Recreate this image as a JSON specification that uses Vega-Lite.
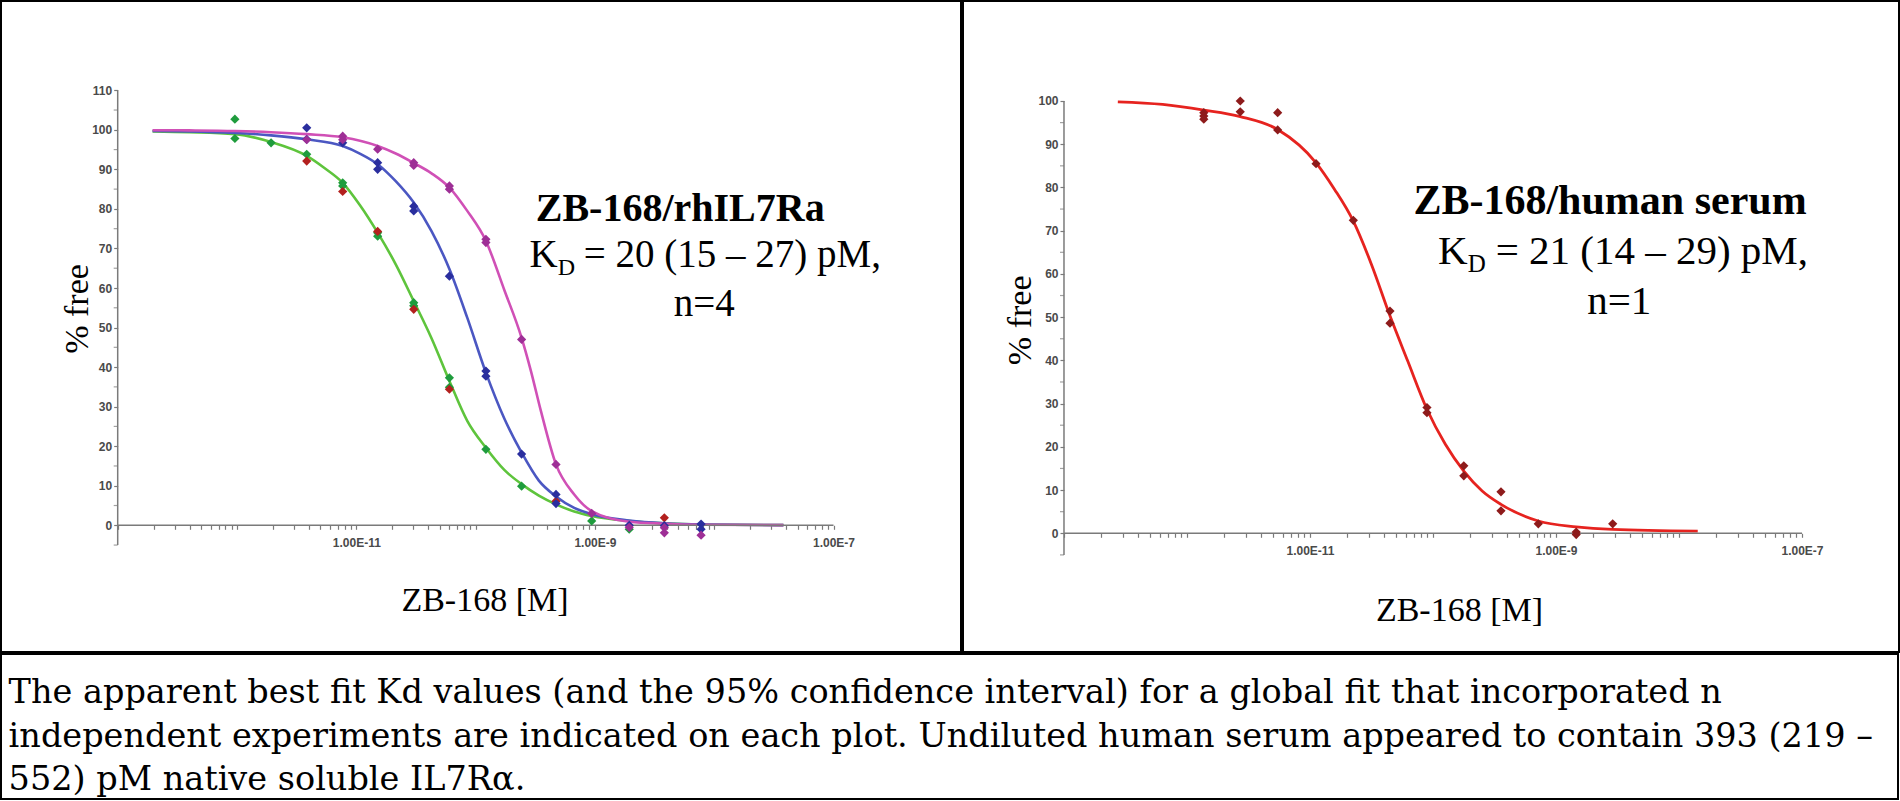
{
  "$schema": "https://vega.github.io/schema/vega-lite/v6.json",
  "padding": 0,
  "background": "white",
  "spacing": 0,
  "config": {
    "view": {"stroke": null},
    "axis": {
      "domain": false, "tickColor": "#7a7a7a", "tickWidth": 1.2, "tickSize": 4,
      "grid": false, "labelFont": "Liberation Sans", "labelFontSize": 12, "labelFontWeight": "bold", "labelColor": "#4a4a4a",
      "labelOverlap": false, "labelFlush": false,
      "titleFont": "Liberation Serif", "titleFontSize": 34, "titleFontWeight": "normal", "titleColor": "black"
    }
  },
  "vconcat": [
    {
      "spacing": 0,
      "hconcat": [
        {
          "width": 960,
          "height": 651,
          "view": {"stroke": "black", "strokeWidth": 2},
          "layer": [
            {
              "data": {"values": [
                {"exp": "exp1", "x": 1.96e-13, "y": 99.6}, {"exp": "exp1", "x": 3.98e-13, "y": 99.4}, {"exp": "exp1", "x": 9.6e-13, "y": 98.9},
                {"exp": "exp1", "x": 1.93e-12, "y": 96.9}, {"exp": "exp1", "x": 3.84e-12, "y": 93.4}, {"exp": "exp1", "x": 5.37e-12, "y": 90.4},
                {"exp": "exp1", "x": 7.69e-12, "y": 86.6}, {"exp": "exp1", "x": 1.07e-11, "y": 81.0}, {"exp": "exp1", "x": 1.51e-11, "y": 74.0},
                {"exp": "exp1", "x": 2.14e-11, "y": 66.0}, {"exp": "exp1", "x": 3.03e-11, "y": 56.7}, {"exp": "exp1", "x": 4.27e-11, "y": 47.3},
                {"exp": "exp1", "x": 6.03e-11, "y": 36.5}, {"exp": "exp1", "x": 8.51e-11, "y": 26.4}, {"exp": "exp1", "x": 1.22e-10, "y": 19.6},
                {"exp": "exp1", "x": 1.74e-10, "y": 14.0}, {"exp": "exp1", "x": 2.43e-10, "y": 10.4}, {"exp": "exp1", "x": 3.39e-10, "y": 7.5},
                {"exp": "exp1", "x": 4.72e-10, "y": 5.3}, {"exp": "exp1", "x": 6.71e-10, "y": 3.5}, {"exp": "exp1", "x": 9.4e-10, "y": 2.35},
                {"exp": "exp1", "x": 1.94e-9, "y": 1.1}, {"exp": "exp1", "x": 3.82e-9, "y": 0.5}, {"exp": "exp1", "x": 7.76e-9, "y": 0.2},
                {"exp": "exp1", "x": 3.8e-8, "y": 0.05},
                {"exp": "exp3", "x": 1.96e-13, "y": 99.7}, {"exp": "exp3", "x": 3.98e-13, "y": 99.6}, {"exp": "exp3", "x": 9.6e-13, "y": 99.2},
                {"exp": "exp3", "x": 1.93e-12, "y": 98.6}, {"exp": "exp3", "x": 3.84e-12, "y": 97.6}, {"exp": "exp3", "x": 7.69e-12, "y": 95.9},
                {"exp": "exp3", "x": 1.07e-11, "y": 94.0}, {"exp": "exp3", "x": 1.51e-11, "y": 91.3}, {"exp": "exp3", "x": 2.14e-11, "y": 87.0},
                {"exp": "exp3", "x": 3.03e-11, "y": 81.6}, {"exp": "exp3", "x": 4.27e-11, "y": 74.4}, {"exp": "exp3", "x": 6.03e-11, "y": 64.8},
                {"exp": "exp3", "x": 8.51e-11, "y": 52.5}, {"exp": "exp3", "x": 1.22e-10, "y": 38.6}, {"exp": "exp3", "x": 1.74e-10, "y": 27.0},
                {"exp": "exp3", "x": 2.43e-10, "y": 18.4}, {"exp": "exp3", "x": 3.39e-10, "y": 11.3}, {"exp": "exp3", "x": 4.72e-10, "y": 7.3},
                {"exp": "exp3", "x": 6.71e-10, "y": 4.4}, {"exp": "exp3", "x": 9.4e-10, "y": 2.8}, {"exp": "exp3", "x": 1.94e-9, "y": 1.2},
                {"exp": "exp3", "x": 3.82e-9, "y": 0.5}, {"exp": "exp3", "x": 7.76e-9, "y": 0.2}, {"exp": "exp3", "x": 3.8e-8, "y": 0.05},
                {"exp": "exp4", "x": 1.96e-13, "y": 99.9}, {"exp": "exp4", "x": 3.98e-13, "y": 99.85}, {"exp": "exp4", "x": 9.6e-13, "y": 99.7},
                {"exp": "exp4", "x": 1.93e-12, "y": 99.4}, {"exp": "exp4", "x": 3.84e-12, "y": 98.9}, {"exp": "exp4", "x": 7.69e-12, "y": 98.1},
                {"exp": "exp4", "x": 1.51e-11, "y": 95.9}, {"exp": "exp4", "x": 2.14e-11, "y": 94.0}, {"exp": "exp4", "x": 3.03e-11, "y": 91.6},
                {"exp": "exp4", "x": 4.27e-11, "y": 89.0}, {"exp": "exp4", "x": 6.03e-11, "y": 85.4}, {"exp": "exp4", "x": 8.51e-11, "y": 79.5},
                {"exp": "exp4", "x": 1.22e-10, "y": 71.9}, {"exp": "exp4", "x": 1.74e-10, "y": 59.5}, {"exp": "exp4", "x": 2.43e-10, "y": 47.4},
                {"exp": "exp4", "x": 2.91e-10, "y": 39.0}, {"exp": "exp4", "x": 3.52e-10, "y": 29.0}, {"exp": "exp4", "x": 4.72e-10, "y": 15.4},
                {"exp": "exp4", "x": 6.71e-10, "y": 7.8}, {"exp": "exp4", "x": 9.4e-10, "y": 3.6}, {"exp": "exp4", "x": 1.94e-9, "y": 0.9},
                {"exp": "exp4", "x": 3.82e-9, "y": 0.4}, {"exp": "exp4", "x": 7.76e-9, "y": 0.15}, {"exp": "exp4", "x": 3.8e-8, "y": 0.05}
              ]},
              "mark": {"type": "line", "interpolate": "monotone", "strokeWidth": 2.6},
              "encoding": {
                "x": {
                  "field": "x", "type": "quantitative",
                  "scale": {"type": "log", "domain": [1.0515e-14, 1.1714e-6], "nice": false},
                  "axis": {
                    "title": "ZB-168 [M]", "offset": -126.7, "labelPadding": 8,
                    "titleX": 483.5, "titleY": 85.3, "titleAlign": "center", "titleBaseline": "alphabetic",
                    "values": [1e-13,2e-13,3e-13,4e-13,5e-13,6e-13,7e-13,8e-13,9e-13,1e-12,2e-12,3e-12,4e-12,5e-12,6e-12,7e-12,8e-12,9e-12,1e-11,2e-11,3e-11,4e-11,5e-11,6e-11,7e-11,8e-11,9e-11,1e-10,2e-10,3e-10,4e-10,5e-10,6e-10,7e-10,8e-10,9e-10,1e-9,2e-9,3e-9,4e-9,5e-9,6e-9,7e-9,8e-9,9e-9,1e-8,2e-8,3e-8,4e-8,5e-8,6e-8,7e-8,8e-8,9e-8,1e-7],
                    "labelExpr": "abs(log(datum.value)/LN10 - round(log(datum.value)/LN10)) < 0.001 && (round(log(datum.value)/LN10) == -11 || round(log(datum.value)/LN10) == -9 || round(log(datum.value)/LN10) == -7) ? '1.00E' + round(log(datum.value)/LN10) : ''"
                  }
                },
                "y": {
                  "field": "y", "type": "quantitative",
                  "scale": {"domain": [-32.04, 132.57], "nice": false, "zero": false},
                  "axis": {
                    "title": "% free", "offset": -116.7, "labelPadding": 2, "format": "d",
                    "titleX": -30, "titleY": 307.5, "titleAngle": 270, "titleAlign": "center", "titleBaseline": "alphabetic",
                    "values": [0,10,20,30,40,50,60,70,80,90,100,110]
                  }
                },
                "stroke": {"field": "exp", "type": "nominal", "scale": {"domain": ["exp1", "exp3", "exp4"], "range": ["#5ec43c", "#4b57c2", "#d050b6"]}, "legend": null}
              }
            },
            {
              "data": {"values": [{}]},
              "mark": {"type": "rule", "color": "#7a7a7a", "strokeWidth": 1.5},
              "encoding": {
                "x": {"datum": 1e-13, "type": "quantitative"},
                "x2": {"datum": 1e-7},
                "y": {"datum": 0, "type": "quantitative"}
              }
            },
            {
              "data": {"values": [{}]},
              "mark": {"type": "rule", "color": "#7a7a7a", "strokeWidth": 1.5},
              "encoding": {
                "x": {"datum": 1e-13, "type": "quantitative"},
                "y": {"datum": -5, "type": "quantitative"},
                "y2": {"datum": 110}
              }
            },
            {
              "data": {"values": [{"tick": -5}, {"tick": 5}, {"tick": 15}, {"tick": 25}, {"tick": 35}, {"tick": 45}, {"tick": 55}, {"tick": 65}, {"tick": 75}, {"tick": 85}, {"tick": 95}, {"tick": 105}]},
              "mark": {"type": "tick", "orient": "horizontal", "color": "#7a7a7a", "size": 4, "thickness": 1.2, "xOffset": -2},
              "encoding": {
                "x": {"datum": 1e-13, "type": "quantitative"},
                "y": {"field": "tick", "type": "quantitative"}
              }
            },
            {
              "data": {"values": [
                {"exp": "exp1", "x": 9.6e-13, "y": 102.7}, {"exp": "exp1", "x": 9.6e-13, "y": 97.8}, {"exp": "exp1", "x": 1.93e-12, "y": 96.7},
                {"exp": "exp1", "x": 3.84e-12, "y": 93.8}, {"exp": "exp1", "x": 7.69e-12, "y": 86.6}, {"exp": "exp1", "x": 7.69e-12, "y": 85.8},
                {"exp": "exp1", "x": 1.51e-11, "y": 74.0}, {"exp": "exp1", "x": 1.51e-11, "y": 73.1}, {"exp": "exp1", "x": 3.03e-11, "y": 56.3},
                {"exp": "exp1", "x": 3.03e-11, "y": 55.5}, {"exp": "exp1", "x": 6.03e-11, "y": 37.3}, {"exp": "exp1", "x": 6.03e-11, "y": 34.9},
                {"exp": "exp1", "x": 1.22e-10, "y": 19.2}, {"exp": "exp1", "x": 2.43e-10, "y": 9.9}, {"exp": "exp1", "x": 9.4e-10, "y": 1.1},
                {"exp": "exp1", "x": 1.94e-9, "y": -1.0},
                {"exp": "exp2", "x": 3.84e-12, "y": 92.1}, {"exp": "exp2", "x": 7.69e-12, "y": 84.4}, {"exp": "exp2", "x": 1.51e-11, "y": 74.3},
                {"exp": "exp2", "x": 3.03e-11, "y": 54.6}, {"exp": "exp2", "x": 6.03e-11, "y": 34.4}, {"exp": "exp2", "x": 4.72e-10, "y": 6.1},
                {"exp": "exp2", "x": 3.82e-9, "y": 1.9},
                {"exp": "exp3", "x": 3.84e-12, "y": 100.5}, {"exp": "exp3", "x": 3.84e-12, "y": 97.6}, {"exp": "exp3", "x": 7.69e-12, "y": 96.7},
                {"exp": "exp3", "x": 1.51e-11, "y": 91.7}, {"exp": "exp3", "x": 1.51e-11, "y": 90.0}, {"exp": "exp3", "x": 3.03e-11, "y": 80.7},
                {"exp": "exp3", "x": 3.03e-11, "y": 79.5}, {"exp": "exp3", "x": 6.03e-11, "y": 63.0}, {"exp": "exp3", "x": 1.22e-10, "y": 39.0},
                {"exp": "exp3", "x": 1.22e-10, "y": 37.7}, {"exp": "exp3", "x": 2.43e-10, "y": 18.0}, {"exp": "exp3", "x": 4.72e-10, "y": 7.8},
                {"exp": "exp3", "x": 4.72e-10, "y": 5.5}, {"exp": "exp3", "x": 1.94e-9, "y": 0.0}, {"exp": "exp3", "x": 3.82e-9, "y": -0.1},
                {"exp": "exp3", "x": 7.76e-9, "y": 0.3}, {"exp": "exp3", "x": 7.76e-9, "y": -1.0},
                {"exp": "exp4", "x": 3.84e-12, "y": 97.5}, {"exp": "exp4", "x": 7.69e-12, "y": 98.4}, {"exp": "exp4", "x": 7.69e-12, "y": 97.5},
                {"exp": "exp4", "x": 1.51e-11, "y": 95.1}, {"exp": "exp4", "x": 3.03e-11, "y": 91.7}, {"exp": "exp4", "x": 3.03e-11, "y": 91.0},
                {"exp": "exp4", "x": 6.03e-11, "y": 85.8}, {"exp": "exp4", "x": 6.03e-11, "y": 85.0}, {"exp": "exp4", "x": 1.22e-10, "y": 72.3},
                {"exp": "exp4", "x": 1.22e-10, "y": 71.5}, {"exp": "exp4", "x": 2.43e-10, "y": 47.0}, {"exp": "exp4", "x": 4.72e-10, "y": 15.4},
                {"exp": "exp4", "x": 9.4e-10, "y": 3.0}, {"exp": "exp4", "x": 1.94e-9, "y": -0.5}, {"exp": "exp4", "x": 3.82e-9, "y": -0.6},
                {"exp": "exp4", "x": 3.82e-9, "y": -1.9}, {"exp": "exp4", "x": 7.76e-9, "y": -2.5}
              ]},
              "mark": {"type": "point", "shape": "diamond", "filled": true, "size": 85, "opacity": 1},
              "encoding": {
                "x": {"field": "x", "type": "quantitative"},
                "y": {"field": "y", "type": "quantitative"},
                "fill": {"field": "exp", "type": "nominal", "scale": {"domain": ["exp1", "exp2", "exp3", "exp4"], "range": ["#1f9c3d", "#b3201e", "#2a2e9e", "#9e2f96"]}, "legend": null}
              }
            },
            {
              "data": {"values": [{}]},
              "mark": {"type": "text", "text": "ZB-168/rhIL7Ra", "font": "Liberation Serif", "fontSize": 40, "fontWeight": "bold", "align": "center", "baseline": "alphabetic", "color": "black"},
              "encoding": {"x": {"datum": 5.19e-9, "type": "quantitative"}, "y": {"datum": 76.9, "type": "quantitative"}}
            },
            {
              "data": {"values": [{}]},
              "mark": {"type": "text", "text": "K", "font": "Liberation Serif", "fontSize": 39, "align": "right", "baseline": "alphabetic", "color": "black"},
              "encoding": {"x": {"datum": 4.88e-10, "type": "quantitative"}, "y": {"datum": 65.3, "type": "quantitative"}}
            },
            {
              "data": {"values": [{}]},
              "mark": {"type": "text", "text": "D", "font": "Liberation Serif", "fontSize": 24, "align": "left", "baseline": "alphabetic", "dy": 8, "color": "black"},
              "encoding": {"x": {"datum": 4.88e-10, "type": "quantitative"}, "y": {"datum": 65.3, "type": "quantitative"}}
            },
            {
              "data": {"values": [{}]},
              "mark": {"type": "text", "text": "= 20 (15 – 27) pM,", "font": "Liberation Serif", "fontSize": 39, "align": "left", "baseline": "alphabetic", "dx": 26, "color": "black"},
              "encoding": {"x": {"datum": 4.88e-10, "type": "quantitative"}, "y": {"datum": 65.3, "type": "quantitative"}}
            },
            {
              "data": {"values": [{}]},
              "mark": {"type": "text", "text": "n=4", "font": "Liberation Serif", "fontSize": 39, "align": "center", "baseline": "alphabetic", "color": "black"},
              "encoding": {"x": {"datum": 8.26e-9, "type": "quantitative"}, "y": {"datum": 52.97, "type": "quantitative"}}
            }
          ]
        },
        {
          "width": 936,
          "height": 651,
          "view": {"stroke": "black", "strokeWidth": 2},
          "layer": [
            {
              "data": {"values": [
                {"x": 2.74e-13, "y": 99.8}, {"x": 6.34e-13, "y": 99.2}, {"x": 1.37e-12, "y": 97.9}, {"x": 2.71e-12, "y": 96.4},
                {"x": 5.46e-12, "y": 93.4}, {"x": 1.12e-11, "y": 85.7}, {"x": 1.58e-11, "y": 79.6}, {"x": 2.25e-11, "y": 72.2},
                {"x": 3.16e-11, "y": 62.2}, {"x": 4.47e-11, "y": 50.3}, {"x": 6.22e-11, "y": 39.9}, {"x": 8.93e-11, "y": 28.7},
                {"x": 1.26e-10, "y": 20.6}, {"x": 1.78e-10, "y": 14.4}, {"x": 2.51e-10, "y": 9.8}, {"x": 3.57e-10, "y": 6.7},
                {"x": 7.18e-10, "y": 2.85}, {"x": 1.46e-9, "y": 1.5}, {"x": 2.89e-9, "y": 0.9}, {"x": 1.42e-8, "y": 0.5}
              ]},
              "mark": {"type": "line", "interpolate": "monotone", "strokeWidth": 2.8, "color": "#e6231f"},
              "encoding": {
                "x": {
                  "field": "x", "type": "quantitative",
                  "scale": {"type": "log", "domain": [1.51e-14, 6.145e-7], "nice": false},
                  "axis": {
                    "title": "ZB-168 [M]", "offset": -118.7, "labelPadding": 8,
                    "titleX": 496, "titleY": 86.7, "titleAlign": "center", "titleBaseline": "alphabetic",
                    "values": [1e-13,2e-13,3e-13,4e-13,5e-13,6e-13,7e-13,8e-13,9e-13,1e-12,2e-12,3e-12,4e-12,5e-12,6e-12,7e-12,8e-12,9e-12,1e-11,2e-11,3e-11,4e-11,5e-11,6e-11,7e-11,8e-11,9e-11,1e-10,2e-10,3e-10,4e-10,5e-10,6e-10,7e-10,8e-10,9e-10,1e-9,2e-9,3e-9,4e-9,5e-9,6e-9,7e-9,8e-9,9e-9,1e-8,2e-8,3e-8,4e-8,5e-8,6e-8,7e-8,8e-8,9e-8,1e-7],
                    "labelExpr": "abs(log(datum.value)/LN10 - round(log(datum.value)/LN10)) < 0.001 && (round(log(datum.value)/LN10) == -11 || round(log(datum.value)/LN10) == -9 || round(log(datum.value)/LN10) == -7) ? '1.00E' + round(log(datum.value)/LN10) : ''"
                  }
                },
                "y": {
                  "field": "y", "type": "quantitative",
                  "scale": {"domain": [-27.46, 123.13], "nice": false, "zero": false},
                  "axis": {
                    "title": "% free", "offset": -101, "labelPadding": 2, "format": "d",
                    "titleX": -34, "titleY": 318.8, "titleAngle": 270, "titleAlign": "center", "titleBaseline": "alphabetic",
                    "values": [0,10,20,30,40,50,60,70,80,90,100]
                  }
                }
              }
            },
            {
              "data": {"values": [{}]},
              "mark": {"type": "rule", "color": "#7a7a7a", "strokeWidth": 1.5},
              "encoding": {
                "x": {"datum": 1e-13, "type": "quantitative"},
                "x2": {"datum": 1e-7},
                "y": {"datum": 0, "type": "quantitative"}
              }
            },
            {
              "data": {"values": [{}]},
              "mark": {"type": "rule", "color": "#7a7a7a", "strokeWidth": 1.5},
              "encoding": {
                "x": {"datum": 1e-13, "type": "quantitative"},
                "y": {"datum": -5, "type": "quantitative"},
                "y2": {"datum": 100}
              }
            },
            {
              "data": {"values": [{"tick": -5}, {"tick": 5}, {"tick": 15}, {"tick": 25}, {"tick": 35}, {"tick": 45}, {"tick": 55}, {"tick": 65}, {"tick": 75}, {"tick": 85}, {"tick": 95}]},
              "mark": {"type": "tick", "orient": "horizontal", "color": "#7a7a7a", "size": 4, "thickness": 1.2, "xOffset": -2},
              "encoding": {
                "x": {"datum": 1e-13, "type": "quantitative"},
                "y": {"field": "tick", "type": "quantitative"}
              }
            },
            {
              "data": {"values": [
                {"x": 1.37e-12, "y": 97.3}, {"x": 1.37e-12, "y": 96.5}, {"x": 1.37e-12, "y": 95.8},
                {"x": 2.71e-12, "y": 100.0}, {"x": 2.71e-12, "y": 97.5},
                {"x": 5.46e-12, "y": 97.3}, {"x": 5.46e-12, "y": 93.3},
                {"x": 1.12e-11, "y": 85.5}, {"x": 2.25e-11, "y": 72.4},
                {"x": 4.47e-11, "y": 51.4}, {"x": 4.47e-11, "y": 48.6},
                {"x": 8.93e-11, "y": 29.1}, {"x": 8.93e-11, "y": 27.9},
                {"x": 1.78e-10, "y": 15.6}, {"x": 1.78e-10, "y": 13.3},
                {"x": 3.57e-10, "y": 9.6}, {"x": 3.57e-10, "y": 5.2},
                {"x": 7.18e-10, "y": 2.2},
                {"x": 1.46e-9, "y": 0.3}, {"x": 1.46e-9, "y": -0.3},
                {"x": 2.89e-9, "y": 2.2}
              ]},
              "mark": {"type": "point", "shape": "diamond", "filled": true, "size": 85, "opacity": 1, "color": "#8e1b1b"},
              "encoding": {
                "x": {"field": "x", "type": "quantitative"},
                "y": {"field": "y", "type": "quantitative"}
              }
            },
            {
              "data": {"values": [{}]},
              "mark": {"type": "text", "text": "ZB-168/human serum", "font": "Liberation Serif", "fontSize": 42, "fontWeight": "bold", "align": "center", "baseline": "alphabetic", "color": "black"},
              "encoding": {"x": {"datum": 2.75e-9, "type": "quantitative"}, "y": {"datum": 73.79, "type": "quantitative"}}
            },
            {
              "data": {"values": [{}]},
              "mark": {"type": "text", "text": "K", "font": "Liberation Serif", "fontSize": 41, "align": "right", "baseline": "alphabetic", "color": "black"},
              "encoding": {"x": {"datum": 1.914e-10, "type": "quantitative"}, "y": {"datum": 62.23, "type": "quantitative"}}
            },
            {
              "data": {"values": [{}]},
              "mark": {"type": "text", "text": "D", "font": "Liberation Serif", "fontSize": 25, "align": "left", "baseline": "alphabetic", "dy": 8, "color": "black"},
              "encoding": {"x": {"datum": 1.914e-10, "type": "quantitative"}, "y": {"datum": 62.23, "type": "quantitative"}}
            },
            {
              "data": {"values": [{}]},
              "mark": {"type": "text", "text": "= 21 (14 – 29) pM,", "font": "Liberation Serif", "fontSize": 41, "align": "left", "baseline": "alphabetic", "dx": 28, "color": "black"},
              "encoding": {"x": {"datum": 1.914e-10, "type": "quantitative"}, "y": {"datum": 62.23, "type": "quantitative"}}
            },
            {
              "data": {"values": [{}]},
              "mark": {"type": "text", "text": "n=1", "font": "Liberation Serif", "fontSize": 41, "align": "center", "baseline": "alphabetic", "color": "black"},
              "encoding": {"x": {"datum": 3.27e-9, "type": "quantitative"}, "y": {"datum": 50.66, "type": "quantitative"}}
            }
          ]
        }
      ]
    },
    {
      "width": 1897,
      "height": 145,
      "view": {"stroke": "black", "strokeWidth": 2},
      "data": {"values": [
        {"line": 1, "text": "The apparent best fit Kd values (and the 95% confidence interval) for a global fit that incorporated n"},
        {"line": 2, "text": "independent experiments are indicated on each plot. Undiluted human serum appeared to contain 393 (219 –"},
        {"line": 3, "text": "552) pM native soluble IL7Rα."}
      ]},
      "mark": {"type": "text", "align": "left", "baseline": "alphabetic", "font": "DejaVu Serif", "fontSize": 33.5, "dy": 20, "color": "black"},
      "encoding": {
        "x": {"datum": 0.004, "type": "quantitative", "scale": {"domain": [0, 1]}, "axis": null},
        "y": {"field": "line", "type": "ordinal", "scale": {"type": "point", "padding": 0.65}, "axis": null},
        "text": {"field": "text"}
      }
    }
  ]
}
